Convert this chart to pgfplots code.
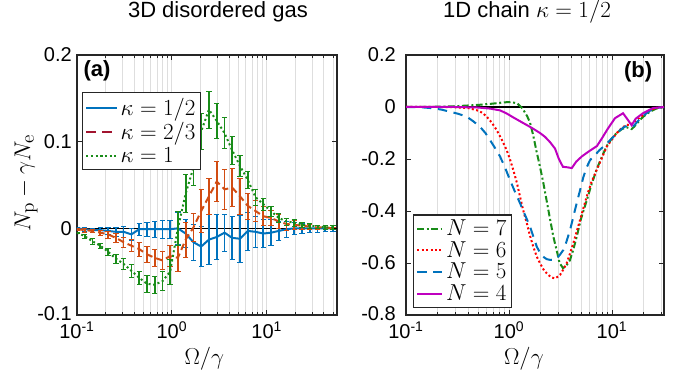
\documentclass[border=0pt]{standalone}
\usepackage[no-math]{fontspec}
\setmainfont{Liberation Sans}
\usepackage{pgfplots}
\pgfplotsset{compat=1.18}
\usepackage{pgfplotstable}

\definecolor{mblue}{rgb}{0,0.447,0.741}
\definecolor{morange}{rgb}{0.82,0.3,0.07}
\definecolor{mcrimson}{rgb}{0.635,0.078,0.184}
\definecolor{mgreen}{rgb}{0.1,0.55,0.1}
\definecolor{mmag}{rgb}{0.75,0,0.75}

\pgfplotstableread{
x y1 e1 y2 e2 y3 e3
0.1 0 0.001 -0.001 0.001 -0.005 0.001
0.12076 -0.001 0.002 -0.002 0.002 -0.009 0.002
0.14582 -0.002 0.002 -0.003 0.002 -0.015 0.003
0.17609 -0.002 0.003 -0.005 0.003 -0.020 0.003
0.21264 -0.003 0.004 -0.007 0.004 -0.027 0.004
0.25678 -0.004 0.005 -0.011 0.005 -0.035 0.005
0.31008 -0.004 0.006 -0.016 0.006 -0.041 0.006
0.37444 -0.007 0.007 -0.020 0.007 -0.049 0.007
0.45216 -0.001 0.007 -0.024 0.008 -0.057 0.008
0.54601 -0.001 0.008 -0.030 0.009 -0.064 0.010
0.65935 -0.001 0.0095 -0.034 0.010 -0.065 0.010
0.79621 -0.001 0.0105 -0.037 0.010 -0.061 0.011
0.95818 -0.001 0.010 -0.032 0.012 -0.050 0.014
1.1568 0.000 0.018 -0.034 0.015 0.000 0.020
1.3967 -0.006 0.016 -0.013 0.020 0.040 0.022
1.6866 -0.016 0.021 0.001 0.016 0.070 0.020
2.0367 -0.021 0.023 0.020 0.025 0.112 0.021
2.4594 -0.013 0.029 0.037 0.021 0.137 0.021
2.9699 -0.010 0.026 0.054 0.023 0.124 0.020
3.5864 -0.005 0.021 0.045 0.023 0.110 0.018
4.3208 -0.011 0.025 0.047 0.022 0.090 0.016
5.2196 -0.012 0.027 0.037 0.021 0.072 0.012
6.3019 -0.003 0.022 0.026 0.015 0.056 0.010
7.6059 -0.004 0.018 0.020 0.012 0.036 0.009
9.1822 -0.006 0.016 0.014 0.011 0.028 0.007
11.084 -0.005 0.015 0.012 0.009 0.020 0.006
13.384 -0.003 0.011 0.008 0.008 0.012 0.005
16.158 -0.001 0.009 0.005 0.007 0.008 0.004
19.503 0 0.007 0.004 0.005 0.0065 0.004
23.543 0 0.006 0.003 0.004 0.004 0.003
28.421 0 0.005 0.002 0.003 0.003 0.003
34.307 0 0.004 0.001 0.002 0.002 0.002
41.418 0 0.003 0.001 0.002 0.001 0.002
50.0 0 0.003 0 0.001 0.001 0.002
}\dataA

\begin{document}
\begin{tikzpicture}
\useasboundingbox (0,0) rectangle (510.75pt,282pt);

% ---------------- panel (a)
\begin{axis}[
  xmode=log, scale only axis,
  at={(57.75pt,45.75pt)}, anchor=south west, width=195pt, height=195pt,
  xmin=0.1, xmax=55, ymin=-0.1, ymax=0.2,
  tick align=inside,
  axis line style={draw=black!85, line width=0.8pt},
  every tick/.style={black!85, line width=0.6pt},
  major tick length=3.5pt, minor tick length=2.2pt,
  xmajorgrids, xminorgrids,
  major grid style={black!13, line width=0.6pt},
  minor grid style={black!13, line width=0.6pt},
  tick label style={font=\fontsize{15}{18}\selectfont},
  xtick={0.1,1,10},
  xticklabels={10\textsuperscript{-1},10\textsuperscript{0},10\textsuperscript{1}},
  xticklabel style={inner sep=0pt, yshift=-5pt},
  minor xtick={0.2,0.3,0.4,0.5,0.6,0.7,0.8,0.9,2,3,4,5,6,7,8,9,20,30,40,50},
  ytick={-0.1,0,0.1,0.2}, yticklabels={\raisebox{2.5pt}{-0.1},0,0.1,0.2},
  scaled y ticks=false,
  yticklabel style={inner sep=0pt, xshift=-3.75pt},
  label style={font=\fontsize{19}{22}\selectfont},
  xlabel={$\Omega/\gamma$},
  xlabel style={at={(axis description cs:0.49,-0.17)}, anchor=center},
  ylabel={$N_\mathrm{p}-\gamma N_\mathrm{e}$},
  ylabel style={at={(axis description cs:-0.196,0.508)}, anchor=center},
  title={3D disordered gas},
  title style={at={(axis description cs:0.542,1.135)}, anchor=center, font=\fontsize{16.5}{19}\selectfont},
  legend cell align=left,
  legend image post style={xscale=1.35},
  legend style={at={(0.019,0.858)}, anchor=north west, draw=black!85, line width=1pt,
    fill=white, font=\fontsize{16}{18}\selectfont, inner xsep=2pt, inner ysep=2pt,
    row sep=0pt},
]
\addplot[black, line width=0.8pt, forget plot] coordinates {(0.1,0) (55,0)};
\addplot[mblue, line width=1.5pt, forget plot,
  error bars/.cd, y dir=both, y explicit,
  error bar style={solid, line width=1.3pt, mblue}]
  table[x=x, y=y1, y error=e1] {\dataA};
\addplot[morange, line width=1.5pt, dash pattern=on 5pt off 3pt, forget plot,
  error bars/.cd, y dir=both, y explicit,
  error bar style={solid, line width=1.3pt, morange}]
  table[x=x, y=y2, y error=e2] {\dataA};
\addplot[mgreen, line width=1.5pt, dash pattern=on 1.5pt off 2pt, forget plot,
  error bars/.cd, y dir=both, y explicit,
  error bar style={solid, line width=1.3pt, mgreen}]
  table[x=x, y=y3, y error=e3] {\dataA};
\addlegendimage{mblue, line width=1.5pt}
\addlegendentry{$\kappa=1/2$}
\addlegendimage{mcrimson, line width=1.5pt, dash pattern=on 7pt off 5pt}
\addlegendentry{$\kappa=2/3$}
\addlegendimage{mgreen, line width=1.5pt, dash pattern=on 1.5pt off 2pt}
\addlegendentry{$\kappa=1$}
\node[font=\bfseries\fontsize{16.5}{18}\selectfont] at (rel axis cs:0.077,0.938) {(a)};
\end{axis}

% ---------------- panel (b)
\begin{axis}[
  xmode=log, scale only axis,
  at={(304.5pt,45.75pt)}, anchor=south west, width=193.5pt, height=195pt,
  xmin=0.1, xmax=32, ymin=-0.8, ymax=0.2,
  tick align=inside,
  axis line style={draw=black!85, line width=0.8pt},
  every tick/.style={black!85, line width=0.6pt},
  major tick length=3.5pt, minor tick length=2.2pt,
  xmajorgrids, xminorgrids,
  major grid style={black!13, line width=0.6pt},
  minor grid style={black!13, line width=0.6pt},
  tick label style={font=\fontsize{15}{18}\selectfont},
  xtick={0.1,1,10},
  xticklabels={10\textsuperscript{-1},10\textsuperscript{0},10\textsuperscript{1}},
  xticklabel style={inner sep=0pt, yshift=-5pt},
  minor xtick={0.2,0.3,0.4,0.5,0.6,0.7,0.8,0.9,2,3,4,5,6,7,8,9,20,30},
  ytick={-0.8,-0.6,-0.4,-0.2,0,0.2}, yticklabels={\raisebox{2.5pt}{-0.8},-0.6,-0.4,-0.2,0,0.2},
  scaled y ticks=false,
  yticklabel style={inner sep=0pt, xshift=-7.5pt},
  label style={font=\fontsize{19}{22}\selectfont},
  xlabel={$\Omega/\gamma$},
  xlabel style={at={(axis description cs:0.457,-0.17)}, anchor=center},
  title={1D chain $\kappa=1/2$},
  title style={at={(axis description cs:0.469,1.135)}, anchor=center, font=\fontsize{16.5}{19}\selectfont},
  legend cell align=left,
  legend image post style={xscale=1.1},
  legend style={at={(0.027,0.027)}, anchor=south west, draw=black!85, line width=1pt,
    fill=white, font=\fontsize{16}{18}\selectfont, inner xsep=2pt, inner ysep=1.5pt,
    row sep=-1pt},
]
\addplot[black, line width=0.8pt, forget plot] coordinates {(0.1,0) (32,0)};
\addplot[mgreen, line width=1.5pt, dash pattern=on 5pt off 2pt on 1.5pt off 2pt] coordinates {
(0.1,0) (0.2,0.001) (0.3,0.003) (0.5,0.008) (0.7,0.013) (0.9,0.018) (1.05,0.019) (1.2,0.014)
(1.35,-0.005) (1.5,-0.035) (1.6,-0.06) (1.72,-0.11) (1.85,-0.17) (2.0,-0.23) (2.15,-0.29)
(2.32,-0.36) (2.5,-0.43) (2.7,-0.5) (2.9,-0.55) (3.1,-0.6) (3.35,-0.62) (3.6,-0.61)
(3.9,-0.59) (4.2,-0.55) (4.54,-0.5) (5.0,-0.43) (5.68,-0.36) (6.3,-0.3) (7.1,-0.24)
(8.0,-0.19) (8.9,-0.15) (10,-0.12) (11.1,-0.1) (12.5,-0.085) (13.9,-0.078) (15.5,-0.085)
(16.5,-0.075) (18.7,-0.05) (20,-0.038) (23.4,-0.018) (27,-0.006) (32,0)};
\addlegendentry{$N=7$}
\addplot[red, line width=1.5pt, dash pattern=on 1.5pt off 1.8pt] coordinates {
(0.1,0) (0.2,0) (0.3,-0.001) (0.4,-0.004) (0.485,-0.012) (0.55,-0.022) (0.607,-0.037)
(0.68,-0.06) (0.758,-0.088) (0.85,-0.125) (0.948,-0.165) (1.02,-0.2) (1.1,-0.242)
(1.19,-0.29) (1.28,-0.345) (1.38,-0.4) (1.49,-0.447) (1.6,-0.495) (1.72,-0.537)
(1.86,-0.575) (2.0,-0.601) (2.2,-0.63) (2.41,-0.646) (2.6,-0.656) (2.8,-0.659)
(3.0,-0.652) (3.13,-0.646) (3.37,-0.625) (3.63,-0.601) (3.9,-0.565) (4.21,-0.524)
(4.54,-0.48) (4.89,-0.435) (5.27,-0.39) (5.68,-0.345) (6.3,-0.29) (7.1,-0.242)
(8.0,-0.195) (8.88,-0.153) (10,-0.125) (11.1,-0.101) (12.5,-0.08) (13.9,-0.068)
(15,-0.07) (16.1,-0.06) (18.7,-0.04) (21,-0.025) (23.4,-0.012) (27,-0.004) (32,0)};
\addlegendentry{$N=6$}
\addplot[mblue, line width=1.5pt, dash pattern=on 7pt off 5pt] coordinates {
(0.1,0) (0.14,-0.001) (0.184,-0.005) (0.22,-0.01) (0.267,-0.018) (0.32,-0.026)
(0.388,-0.037) (0.45,-0.055) (0.523,-0.076) (0.59,-0.1) (0.654,-0.127) (0.73,-0.157)
(0.818,-0.19) (0.92,-0.235) (1.02,-0.28) (1.14,-0.325) (1.28,-0.37) (1.43,-0.415)
(1.6,-0.46) (1.73,-0.5) (1.86,-0.537) (2.0,-0.56) (2.15,-0.576) (2.32,-0.585)
(2.5,-0.588) (2.7,-0.587) (2.9,-0.582) (3.1,-0.57) (3.37,-0.55) (3.6,-0.52)
(3.91,-0.474) (4.2,-0.425) (4.54,-0.37) (4.9,-0.32) (5.27,-0.27) (5.68,-0.232)
(6.11,-0.205) (6.6,-0.19) (7.1,-0.178) (7.6,-0.165) (8.24,-0.153) (9.2,-0.135)
(10.3,-0.115) (11.5,-0.095) (12.8,-0.08) (13.9,-0.072) (15.5,-0.078) (16.5,-0.07)
(18.7,-0.045) (21,-0.028) (23.4,-0.014) (27,-0.004) (32,0)};
\addlegendentry{$N=5$}
\addplot[mmag, line width=1.5pt] coordinates {
(0.1,0) (0.3,0) (0.5,-0.002) (0.65,-0.006) (0.82,-0.013) (0.95,-0.025) (1.1,-0.04)
(1.35,-0.06) (1.66,-0.08) (2.0,-0.1) (2.24,-0.115) (2.5,-0.135) (2.8,-0.16)
(3.05,-0.2) (3.34,-0.23) (3.7,-0.232) (4.07,-0.235) (4.5,-0.21) (5.1,-0.19)
(6.0,-0.17) (7.15,-0.15) (8.0,-0.12) (8.9,-0.09) (9.8,-0.065) (10.7,-0.043)
(12.8,-0.024) (14,-0.045) (15.5,-0.07) (17,-0.045) (20,-0.024) (25,-0.004) (32,0)};
\addlegendentry{$N=4$}
\node[font=\bfseries\fontsize{16.5}{18}\selectfont] at (rel axis cs:0.9,0.935) {(b)};
\end{axis}
\end{tikzpicture}
\end{document}
